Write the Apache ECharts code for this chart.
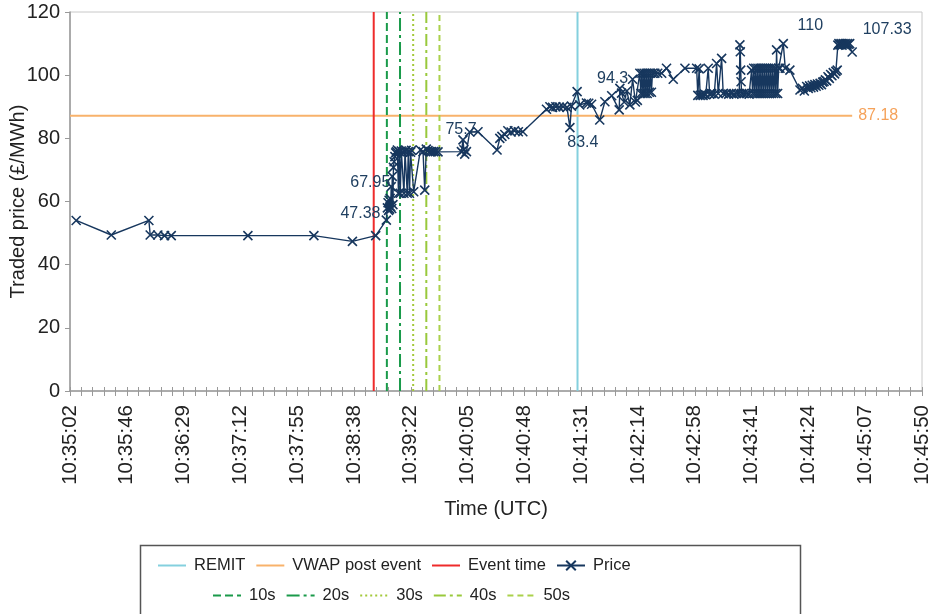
<!DOCTYPE html>
<html><head><meta charset="utf-8">
<script src="https://cdn.jsdelivr.net/npm/echarts@6/dist/echarts.min.js"></script>
<style>html,body{margin:0;padding:0;background:#fff}#c{width:940px;height:614px}</style>
</head><body><div id="c"></div>
<script>
// x values are seconds after 10:35:02 (UTC)
const tickLabels = ["10:35:02","10:35:46","10:36:29","10:37:12","10:37:55","10:38:38","10:39:22","10:40:05","10:40:48","10:41:31","10:42:14","10:42:58","10:43:41","10:44:24","10:45:07","10:45:50"];
const axisMaxSec = 648;
const tickStepSec = 43.2;

const priceSec = [4.7,31.4,60.0,61.0,66.8,71.9,77.0,135.3,185.5,214.8,232.5,
240.6,241.4,241.9,242.3,242.7,243.1,243.5,243.9,244.3,244.7,245.1,245.6,246.0,246.5,247.1,247.7,248.3,249.0,249.8,250.5,251.2,252.0,253.0,254.0,254.8,255.6,256.5,257.3,258.2,259.0,259.8,261.4,
266.5,268.5,269.8,271.0,272.3,273.6,275.0,276.5,278.0,279.9,297.7,298.9,299.6,300.2,301.5,304.0,310.3,324.8,326.9,328.5,330.7,333.0,335.5,338.0,341.0,344.4,
362.4,365.0,367.0,369.5,372.0,375.0,378.0,380.2,381.4,385.7,387.7,392.8,394.5,396.7,402.9,406.8,412.0,417.7,418.2,419.5,421.5,423.5,425.8,427.9,430.0,431.5,
433.4,434.2,435.0,435.8,436.6,437.4,438.2,439.0,439.8,440.6,441.4,442.2,443.0,444.8,447.0,450.0,453.7,458.8,467.7,
476.6,477.5,478.5,479.3,480.5,481.5,482.5,483.5,485.4,486.5,488.0,490.0,491.8,493.0,495.6,496.8,499.0,501.0,503.0,505.0,507.0,509.0,509.5,509.8,510.1,510.4,510.8,512.5,514.5,516.5,
518.4,519.2,520.0,520.8,521.6,522.4,523.2,524.0,524.8,525.6,526.4,527.2,528.0,528.8,529.6,530.4,531.2,532.0,532.8,533.6,534.4,535.2,536.0,536.8,537.4,538.2,539.0,540.0,542.5,544.0,547.5,
555.2,557.0,558.5,560.3,561.5,562.5,563.5,564.5,565.5,566.5,567.5,568.5,569.5,570.5,571.5,572.5,573.5,574.5,575.5,576.5,577.5,578.5,579.5,580.5,581.5,582.5,583.5,
584.0,584.8,585.6,586.4,587.2,588.0,588.8,589.6,590.4,591.2,592.0,593.0,594.9];

const priceVal = [54,49.4,54,49.4,49.4,49.2,49.2,49.2,49.2,47.38,49.2,
54.1,58.0,59.6,57.2,60.4,57.6,61.0,58.4,64.7,57.8,67.95,59.0,70.8,72.6,74.2,75.4,75.8,76.3,62.6,75.8,62.6,76.0,75.6,62.6,75.8,76.2,62.6,75.8,62.6,75.6,76.2,63.1,
76.3,75.8,63.6,76.6,76.1,75.8,75.8,75.8,75.8,75.7,75.8,79.5,76.4,75.0,75.8,82.0,82.1,76.3,80.0,80.6,81.2,82.4,82.0,82.4,82.1,82.1,
89.2,90.0,89.8,90.0,89.9,90.0,89.8,83.4,90.2,94.8,90.6,91.2,91.1,90.8,85.8,91.6,93.5,89.0,95.8,94.3,91.5,95.0,90.6,98.7,91.5,92.0,
100.6,94.2,100.6,94.2,100.6,94.2,100.6,94.2,100.6,94.6,100.6,94.6,100.6,100.6,100.6,100.6,102.2,98.7,102.2,
102.2,93.6,102.0,93.6,93.8,93.6,94.0,93.8,102.2,94.0,94.2,94.0,103.7,94.2,105.3,94.2,94.2,94.0,94.2,94.0,94.2,94.2,109.6,107.4,101.6,97.9,94.2,94.2,94.2,94.0,
101.6,94.2,102.2,94.2,102.2,94.2,102.2,94.2,102.2,94.2,102.2,94.2,102.2,94.2,102.2,94.2,102.2,94.2,102.2,94.2,102.2,94.2,102.2,94.2,108.0,94.2,102.2,102.2,110,102.2,101.6,
95.3,95.8,95.0,96.4,95.8,96.6,96.0,96.8,96.2,97.0,96.5,97.2,96.8,97.4,97.0,97.8,98.0,98.5,98.2,99.5,99.0,100.2,99.8,100.8,100.4,101.2,101.6,
109.5,110,109.6,110,109.5,110,109.8,110,109.6,110,109.8,110,107.33];

// annotated trades (seconds after 10:35:02)
const labelledSec = [214.8,245.1,279.9,380.2,419.5,542.5,594.9];

const eventSec = 231;
const remitSec = 386;
const windowNames = ["10s","20s","30s","40s","50s"];
const windowSec = [241,251,261,271,281];
const vwapPostEvent = 87.18;
const vwapStartSec = 0;
const vwapEndSec = 594.9;

// styling
const labelOffsets = [[8,-28],[-22,6],[23,-22],[13,15],[-9,-15],[27,-18],[35,-22]];
const FONT = '"Liberation Sans", Arial, sans-serif';
const NAVY = '#17375e';
const windowStyles = [
  {color:'#1a9a4a', type:[8,4]},
  {color:'#1a9a4a', type:[13,4,3,4]},
  {color:'#a4c93a', type:[2,3]},
  {color:'#99c93c', type:[12,4,3,4]},
  {color:'#abd14b', type:[6,4]}
];

const priceData = priceSec.map((t,i)=>{
  const li = labelledSec.indexOf(t);
  if (li < 0) return [t, priceVal[i]];
  return {value:[t, priceVal[i]], label:{show:true, position:'inside', offset:labelOffsets[li],
    formatter:String(priceVal[i]), color:'#1f3f60', fontSize:16, fontFamily:FONT}};
});

function vline(name, t, color, type, width){
  return {name, type:'line', data:[[t,0],[t,120]], symbol:'none', silent:true, z:2,
    lineStyle:{color, type, width}, itemStyle:{color}};
}

const series = [
  vline('REMIT', remitSec, '#84d0de', 'solid', 2),
  {name:'VWAP post event', type:'line', data:[[vwapStartSec,vwapPostEvent],[vwapEndSec,vwapPostEvent]],
   symbol:'none', z:2, lineStyle:{color:'#f8b26b', width:2}, itemStyle:{color:'#f8b26b'},
   endLabel:{show:true, formatter:String(vwapPostEvent), color:'#f5a25a', fontSize:16, fontFamily:FONT, distance:6}},
  vline('Event time', eventSec, '#ee2b2b', 'solid', 2),
  {name:'Price', type:'line', data:priceData, z:5,
   symbol:'path://M0,0L10,10M10,0L0,10', symbolSize:9, showAllSymbol:true,
   lineStyle:{color:NAVY, width:1.4},
   itemStyle:{color:NAVY, borderColor:NAVY, borderWidth:1.6}},
];
windowNames.forEach((n,i)=>series.push(vline(n, windowSec[i], windowStyles[i].color, windowStyles[i].type, 2)));

const hideSym = {opacity:0};
const legendText = {fontSize:16.5, color:'#222', fontFamily:FONT, padding:[0,0,0,3]};
const chart = echarts.init(document.getElementById('c'), null, {renderer:'canvas'});
chart.setOption({
  animation:false,
  textStyle:{fontFamily:FONT},
  grid:{left:70, right:18, top:12, bottom:223, show:true, borderColor:'#c8c8c8', borderWidth:1,
        containLabel:false, outerBoundsMode:'none'},
  xAxis:[{
    type:'value', min:0, max:axisMaxSec, interval:tickStepSec, position:'bottom',
    name:'Time (UTC)', nameLocation:'middle', nameGap:108,
    nameTextStyle:{fontSize:20, color:'#222', fontFamily:FONT},
    axisLine:{show:true, lineStyle:{color:'#999', width:1.5}},
    axisTick:{show:true, length:5, lineStyle:{color:'#999'}},
    minorTick:{show:true, splitNumber:5, length:5, lineStyle:{color:'#999'}},
    splitLine:{show:false},
    axisLabel:{rotate:90, fontSize:20.5, color:'#222', margin:14, fontFamily:FONT,
      formatter:v=>{const i=Math.round(v/tickStepSec); return tickLabels[i]||'';}}
  },{
    type:'value', min:0, max:axisMaxSec, interval:tickStepSec, position:'bottom',
    axisLine:{show:false}, axisLabel:{show:false}, splitLine:{show:false},
    axisTick:{show:true, inside:true, length:4, lineStyle:{color:'#999'}},
    minorTick:{show:true, splitNumber:5, length:4, lineStyle:{color:'#999'}}
  }],
  yAxis:{
    type:'value', min:0, max:120, interval:20,
    name:'Traded price (£/MWh)', nameLocation:'middle', nameGap:42, nameMoveOverlap:false,
    nameTextStyle:{fontSize:20, color:'#222', fontFamily:FONT},
    axisLine:{show:true, lineStyle:{color:'#999', width:1.5}},
    axisTick:{show:true, length:5, lineStyle:{color:'#999'}},
    splitLine:{show:false},
    axisLabel:{fontSize:20, color:'#222', margin:10, fontFamily:FONT}
  },
  legend:[{
    data:[{name:'REMIT', itemStyle:hideSym},{name:'VWAP post event', itemStyle:hideSym},
          {name:'Event time', itemStyle:hideSym},'Price'],
    left:152, top:552, itemWidth:28, itemHeight:12, itemGap:10,
    textStyle:legendText
  },{
    data:windowNames.map(n=>({name:n, itemStyle:hideSym})),
    left:207, top:582, itemWidth:28, itemHeight:12, itemGap:10,
    textStyle:legendText
  }],
  graphic:[{type:'rect', shape:{x:140.5, y:545.5, width:660, height:80},
    style:{fill:'none', stroke:'#555', lineWidth:1.5}, silent:true}],
  series
});
</script></body></html>
